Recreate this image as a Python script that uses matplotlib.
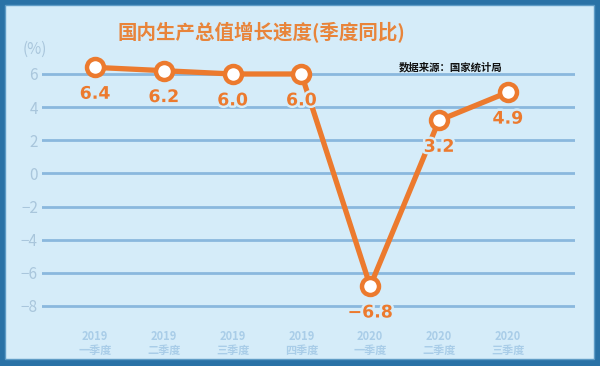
import matplotlib
matplotlib.use("Agg")
import matplotlib.pyplot as plt
from matplotlib.patches import Rectangle
import matplotlib.patheffects as pe

plt.rcParams['font.family'] = ['Noto Sans CJK SC', 'DejaVu Sans']

years = ["2019", "2019", "2019", "2019", "2020", "2020", "2020"]
quarters = ["一季度", "二季度", "三季度", "四季度", "一季度", "二季度", "三季度"]
values = [6.4, 6.2, 6.0, 6.0, -6.8, 3.2, 4.9]
value_labels = ["6.4", "6.2", "6.0", "6.0", "−6.8", "3.2", "4.9"]
yticks = [6, 4, 2, 0, -2, -4, -6, -8]
ytick_labels = ["6", "4", "2", "0", "−2", "−4", "−6", "−8"]

title = "国内生产总值增长速度(季度同比)"
source = "数据来源：国家统计局"

W, H = 600, 366
fig = plt.figure(figsize=(W / 100, H / 100), dpi=100)
bg = "#d5ecf9"
border = "#2a72a6"
fig.patch.set_facecolor(border)
# inner panel
fig.patches.append(Rectangle((5 / W, 7 / H), (W - 11) / W, (H - 12) / H,
                             transform=fig.transFigure, facecolor=bg,
                             edgecolor="#5f9cc6", linewidth=1.0, zorder=-10))

# axes geometry in pixels
px_left, px_right = 42, 575
px_top, px_bot = 40, 322
ppu = (306 - 74) / 14.0
x0_px, dx_px = 95, 68.8
ax = fig.add_axes([px_left / W, (H - px_bot) / H, (px_right - px_left) / W, (px_bot - px_top) / H])
ax.set_zorder(5)
ax.set_facecolor("none")
ax.set_xlim((px_left - x0_px) / dx_px, (px_right - x0_px) / dx_px)
ax.set_ylim(-8 - (px_bot - 306) / ppu, 6 + (74 - px_top) / ppu)

for y in yticks:
    ax.axhline(y, color="#8ab8de", linewidth=2.0, zorder=1)

xs = list(range(len(values)))
ax.plot(xs, values, color="#ec7a2e", linewidth=3.8, zorder=3,
        solid_capstyle="round", solid_joinstyle="round")
ax.scatter(xs, values, s=150, facecolor="white", edgecolor="#ec7a2e",
           linewidth=3.2, zorder=4)

for x, v, lab in zip(xs, values, value_labels):
    ax.annotate(lab, (x, v), xytext=(0, -19), textcoords="offset points",
                ha="center", va="center", fontsize=12.5, fontweight="bold",
                color="#ec7a2e", family=["DejaVu Sans"], zorder=5,
                path_effects=[pe.withStroke(linewidth=3.5, foreground=bg)])

ax.set_yticks(yticks)
ax.set_yticklabels(ytick_labels, fontsize=11, color="#a9c6dc")
ax.set_xticks(xs)
ax.set_xticklabels([f"{y}\n{q}" for y, q in zip(years, quarters)],
                   fontsize=8, color="#a9cde8", fontweight="bold", linespacing=1.1)
ax.tick_params(axis="y", length=0, pad=3)
ax.tick_params(axis="x", length=0, pad=6)
for s in ax.spines.values():
    s.set_visible(False)

fig.text(35 / W, 1 - 49 / H, "(%)", fontsize=11, color="#a9c6dc", ha="center", va="center")
fig.text(261 / W, 1 - 33 / H, title, fontsize=14, fontweight="bold",
         color="#e8843a", ha="center", va="center")
fig.text(502 / W, 1 - 67 / H, source, fontsize=7.5, fontweight="bold",
         color="#111111", ha="right", va="center")

fig.savefig("out.png", dpi=100, facecolor=fig.get_facecolor())
